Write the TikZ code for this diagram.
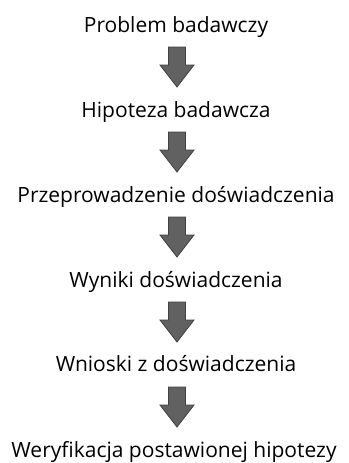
\documentclass[tikz,border=0pt]{standalone}
\usepackage{fontspec}
\setmainfont{Open Sans}
\begin{document}
\begin{tikzpicture}[x=1pt,y=-1pt,
  stage/.style={font=\fontsize{21}{24}\selectfont, inner sep=0pt, anchor=base},
  arrowline/.style={draw=black!75, fill=black!62, line width=0.8pt, line join=miter},
  blockarrow/.pic={\path[arrowline] (-8.5,0) -- (8.5,0) -- (8.5,18) -- (17,18) -- (0,40) -- (-17,18) -- (-8.5,18) -- cycle;}]
  \useasboundingbox (0,0) rectangle (348,463);
  % process stages (baselines)
  \node[stage] (s1) at (176,32) {Problem badawczy};
  \node[stage] (s2) at (176,117) {Hipoteza badawcza};
  \node[stage] (s3) at (176,202) {Przeprowadzenie doświadczenia};
  \node[stage] (s4) at (176,287) {Wyniki doświadczenia};
  \node[stage] (s5) at (176,371) {Wnioski z doświadczenia};
  \node[stage] (s6) at (174,457) {Weryfikacja postawionej hipotezy};
  % block arrows between stages
  \pic at (177,47) {blockarrow};
  \pic at (177,132) {blockarrow};
  \pic at (177,217) {blockarrow};
  \pic at (177,302) {blockarrow};
  \pic at (177,387) {blockarrow};
\end{tikzpicture}
\end{document}
